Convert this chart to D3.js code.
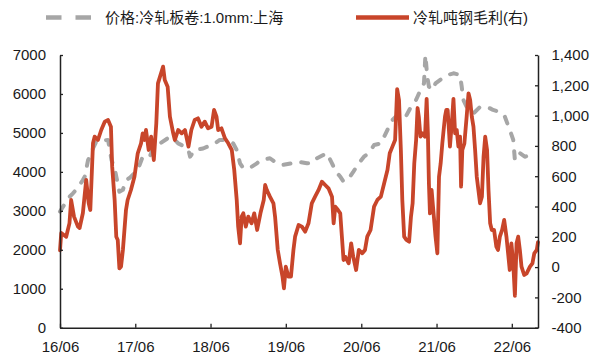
<!DOCTYPE html>
<html>
<head>
<meta charset="utf-8">
<script src="https://cdn.jsdelivr.net/npm/d3@7"></script>
<style>
  html, body { margin: 0; padding: 0; background: #fff; }
  svg { display: block; font-family: "Liberation Sans", Arial, "Noto Sans CJK SC", sans-serif; }
</style>
</head>
<body>
<svg id="chart" width="605" height="356"></svg>
<script>
// ---- data ----
const seriesNames = ["价格:冷轧板卷:1.0mm:上海", "冷轧吨钢毛利(右)"];
const xTickLabels = ["16/06", "17/06", "18/06", "19/06", "20/06", "21/06", "22/06"];
const xTickDates = ["2016-06-01", "2017-06-01", "2018-06-01", "2019-06-01", "2020-06-01", "2021-06-01", "2022-06-01"];
const leftTicks = [0, 1000, 2000, 3000, 4000, 5000, 6000, 7000];
const rightTicks = [-400, -200, 0, 200, 400, 600, 800, 1000, 1200, 1400];

const priceDates = [
  "2016-06-01","2016-06-15","2016-07-17","2016-08-03","2016-08-27","2016-09-20","2016-09-29","2016-10-15","2016-10-23","2016-11-08","2016-11-24","2016-12-12",
  "2017-01-20","2017-02-06","2017-02-21","2017-03-01","2017-03-16","2017-04-02","2017-04-17","2017-05-04","2017-06-13","2017-07-07","2017-08-10","2017-09-03","2017-09-29","2017-11-16","2017-12-10","2017-12-26",
  "2018-01-28","2018-02-14","2018-02-22","2018-03-16","2018-04-26","2018-06-22","2018-07-16","2018-08-18","2018-09-19","2018-10-06","2018-10-22","2018-11-07","2018-12-17",
  "2019-01-12","2019-01-29","2019-03-16","2019-04-18","2019-05-20","2019-06-30","2019-08-02","2019-09-11","2019-10-05","2019-10-30","2019-12-17",
  "2020-01-11","2020-01-30","2020-02-20","2020-03-07","2020-04-01","2020-04-10","2020-04-23","2020-05-20","2020-06-14","2020-07-08","2020-08-02","2020-09-04","2020-10-06","2020-10-30","2020-12-01",
  "2021-01-03","2021-01-28","2021-02-22","2021-03-15","2021-04-01","2021-04-08","2021-04-17","2021-04-25","2021-05-10","2021-05-27","2021-06-29","2021-07-27","2021-08-22","2021-09-23","2021-10-01","2021-10-09","2021-10-25","2021-11-27","2021-12-29",
  "2022-01-23","2022-02-16","2022-03-02","2022-03-26","2022-04-20","2022-04-28","2022-05-22","2022-06-08","2022-06-16","2022-07-10","2022-08-03","2022-09-05","2022-09-30"
];
const priceValues = [
  2980,3100,3360,3450,3600,3790,3880,4300,4390,4600,4780,4800,
  4820,4300,4090,3880,3490,3540,3790,3840,4050,4390,4390,4690,4730,4900,4820,4730,
  4650,4560,4390,4560,4600,4730,4820,4820,4730,4560,4220,4090,4130,
  4220,4300,4350,4220,4180,4220,4260,4220,4220,4350,4480,
  4220,4000,3880,3750,3880,3900,4000,4220,4390,4480,4690,4730,5080,5330,5500,
  5420,5670,5850,6100,6270,7000,6440,6190,6100,6270,6400,6490,6530,6490,6190,5850,5670,5500,5670,
  5670,5630,5590,5550,5420,5420,5080,4820,4300,4480,4390,4430,4390
];

const profitDates = [
  "2016-06-01","2016-06-07","2016-07-01","2016-07-17","2016-07-25","2016-08-08","2016-08-27","2016-09-04","2016-09-20","2016-10-06","2016-10-18","2016-10-26","2016-11-08","2016-11-16","2016-12-02","2016-12-18",
  "2017-01-04","2017-01-20","2017-02-03","2017-02-09","2017-02-21","2017-03-01","2017-03-08","2017-03-16","2017-03-24","2017-04-02","2017-04-17","2017-04-25","2017-05-11","2017-05-28","2017-06-13","2017-06-29","2017-07-07","2017-07-16","2017-07-23","2017-08-05","2017-08-17","2017-08-30","2017-09-11","2017-09-19","2017-09-29","2017-10-14","2017-10-22","2017-11-05","2017-11-16","2017-12-02","2017-12-10","2017-12-26",
  "2018-01-12","2018-01-28","2018-02-14","2018-02-28","2018-03-16","2018-04-01","2018-04-18","2018-05-04","2018-05-20","2018-06-06","2018-06-18","2018-06-30","2018-07-08","2018-07-24","2018-08-10","2018-08-26","2018-09-12","2018-09-24","2018-10-06","2018-10-13","2018-10-22","2018-10-30","2018-11-07","2018-11-19","2018-12-01","2018-12-17","2018-12-30",
  "2019-01-13","2019-01-29","2019-02-14","2019-02-21","2019-03-01","2019-03-16","2019-04-02","2019-04-10","2019-04-23","2019-05-04","2019-05-16","2019-05-23","2019-06-01","2019-06-14","2019-06-26","2019-07-08","2019-07-16","2019-08-02","2019-08-18","2019-09-03","2019-09-19","2019-10-05","2019-10-21","2019-11-07","2019-11-23","2019-12-09","2019-12-25",
  "2020-01-11","2020-01-19","2020-01-27","2020-02-09","2020-02-20","2020-02-28","2020-03-07","2020-03-15","2020-04-01","2020-04-13","2020-04-23","2020-05-07","2020-05-20","2020-06-06","2020-06-19","2020-06-30","2020-07-16","2020-08-02","2020-08-18","2020-09-04","2020-09-20","2020-10-06","2020-10-17","2020-10-30","2020-11-12","2020-11-22","2020-12-01","2020-12-10","2020-12-17","2020-12-26",
  "2021-01-06","2021-01-19","2021-01-28","2021-02-05","2021-02-13","2021-02-22","2021-03-01","2021-03-07","2021-03-15","2021-03-23","2021-04-06","2021-04-14","2021-04-20","2021-04-25","2021-04-30","2021-05-08","2021-05-19","2021-05-27","2021-06-05","2021-06-13","2021-06-21","2021-06-29","2021-07-07","2021-07-12","2021-07-18","2021-07-25","2021-08-05","2021-08-14","2021-08-22","2021-08-30","2021-09-07","2021-09-15","2021-09-23","2021-09-28","2021-10-04","2021-10-14","2021-10-25","2021-11-03","2021-11-11","2021-11-19","2021-11-27","2021-12-05","2021-12-13","2021-12-21","2021-12-29",
  "2022-01-07","2022-01-15","2022-01-23","2022-02-01","2022-02-08","2022-02-16","2022-02-24","2022-03-07","2022-03-18","2022-03-26","2022-04-04","2022-04-15","2022-04-25","2022-05-06","2022-05-14","2022-05-22","2022-05-30","2022-06-08","2022-06-16","2022-06-24","2022-07-02","2022-07-10","2022-07-18","2022-07-31","2022-08-12","2022-08-28","2022-09-09","2022-09-18","2022-09-30","2022-10-06"
];
const profitValues = [
  110,225,200,290,443,333,267,258,357,575,423,377,817,861,839,905,
  960,971,927,663,443,200,179,-8,3,113,377,443,509,597,751,817,883,839,905,773,861,707,949,1213,1257,1323,1235,1191,993,883,839,905,
  883,905,795,905,971,982,927,960,916,927,1037,993,905,916,850,817,773,641,443,267,157,333,355,267,333,289,355,
  245,355,443,542,509,465,421,333,113,25,-63,-140,3,-63,-63,113,201,278,267,234,289,421,465,509,564,542,520,
  465,289,399,377,355,201,47,69,25,157,69,-19,113,91,113,201,245,399,443,465,553,641,751,795,839,1175,1103,773,443,201,
  179,168,333,421,685,839,1050,993,861,883,861,1110,883,553,355,509,333,201,91,597,685,817,927,993,1037,1037,795,949,1110,883,905,795,861,531,773,817,993,1147,1103,993,927,773,597,509,421,
  465,729,861,773,509,289,245,245,135,113,201,245,311,201,91,-19,157,25,-190,157,201,113,3,-52,-41,3,25,91,113,165
];

// ---- chart ----
const svg = d3.select("#chart");
const parse = d3.timeParse("%Y-%m-%d");
const mLeft = 60, mRight = 538, mTop = 55, mBottom = 327.7;

const x = d3.scaleTime()
  .domain([parse("2016-06-01"), parse("2022-10-06")])
  .range([mLeft, mRight]);
const yL = d3.scaleLinear().domain([0, 7000]).range([mBottom, mTop]);
const yR = d3.scaleLinear().domain([-400, 1400]).range([mBottom, mTop]);

const price = priceDates.map((d, i) => ({ date: parse(d), value: priceValues[i] }));
const profit = profitDates.map((d, i) => ({ date: parse(d), value: profitValues[i] }));

const gray = "#a6a6a6", red = "#c8452a", axisColor = "#222";

// lines
svg.append("path")
  .datum(price)
  .attr("fill", "none")
  .attr("stroke", gray)
  .attr("stroke-width", 4)
  .attr("stroke-dasharray", "7,11")
  .attr("stroke-linecap", "round")
  .attr("stroke-linejoin", "round")
  .attr("d", d3.line().x(d => x(d.date)).y(d => yL(d.value)));

svg.append("path")
  .datum(profit)
  .attr("fill", "none")
  .attr("stroke", red)
  .attr("stroke-width", 3.8)
  .attr("stroke-linejoin", "round")
  .attr("stroke-linecap", "round")
  .attr("d", d3.line().x(d => x(d.date)).y(d => yR(d.value)));

// axes
function styleAxis(g) {
  g.selectAll(".domain").attr("stroke", axisColor).attr("stroke-width", 1.5);
  g.selectAll(".tick line").attr("stroke", axisColor).attr("stroke-width", 1.3);
  g.selectAll("text").attr("fill", "#1a1a1a").style("font-size", "15px")
    .style("font-family", '"Liberation Sans", Arial, sans-serif');
}

const gL = svg.append("g").attr("transform", `translate(${mLeft},0)`)
  .call(d3.axisLeft(yL).tickValues(leftTicks).tickSize(-3).tickSizeOuter(0).tickPadding(14).tickFormat(d3.format("d")));
styleAxis(gL);

const gR = svg.append("g").attr("transform", `translate(${mRight},0)`)
  .call(d3.axisRight(yR).tickValues(rightTicks).tickSize(-3).tickSizeOuter(0).tickPadding(13.5)
    .tickFormat(d => d3.format(",")(d).replace("\u2212", "-")));
styleAxis(gR);

const gX = svg.append("g").attr("transform", `translate(0,${mBottom})`)
  .call(d3.axisBottom(x).tickValues(xTickDates.map(parse)).tickSize(-4).tickSizeOuter(0).tickPadding(14)
    .tickFormat((d, i) => xTickLabels[i]));
styleAxis(gX);

// legend
const lg = svg.append("g").style("font-family", '"Liberation Sans", Arial, "Noto Sans CJK SC", sans-serif').style("font-size", "15px");
lg.append("line").attr("x1", 46).attr("x2", 91).attr("y1", 17.5).attr("y2", 17.5)
  .attr("stroke", gray).attr("stroke-width", 4.5).attr("stroke-dasharray", "15.5,14");
lg.append("text").attr("x", 105).attr("y", 17.5).attr("dy", "0.35em").attr("fill", "#1a1a1a").text(seriesNames[0]);
lg.append("line").attr("x1", 356).attr("x2", 409).attr("y1", 17.5).attr("y2", 17.5)
  .attr("stroke", red).attr("stroke-width", 4.5);
lg.append("text").attr("x", 413).attr("y", 17.5).attr("dy", "0.35em").attr("fill", "#1a1a1a").text(seriesNames[1]);
</script>
</body>
</html>
